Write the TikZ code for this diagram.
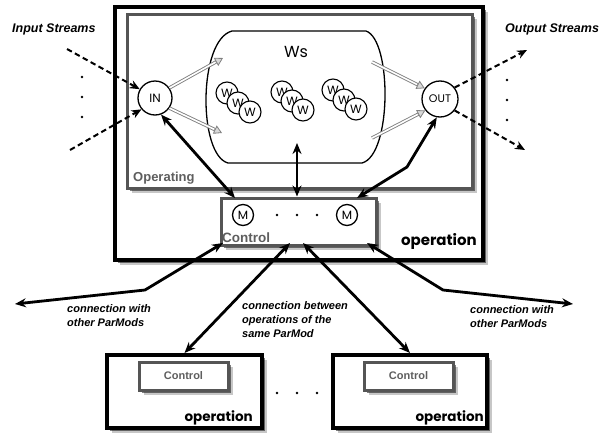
\documentclass[tikz,border=0pt]{standalone}
\usepackage{fontspec}
\setmainfont{Liberation Sans}
\newfontfamily\comic{Poppins}
\usetikzlibrary{arrows.meta,shadows}
\definecolor{boxgray}{HTML}{555555}
\definecolor{txtgray}{HTML}{5E5E5E}
\begin{document}
\begin{tikzpicture}[x=1pt,y=-1pt,
  shad/.style={drop shadow={shadow xshift=4.5pt, shadow yshift=-4.5pt, fill=black, opacity=0.22},
               drop shadow={shadow xshift=2.5pt, shadow yshift=-2.5pt, fill=black, opacity=0.5}},
  mainbox/.style={draw=black, line width=4pt, fill=white, inner sep=0pt, shad},
  graybox/.style={draw=boxgray, line width=3pt, fill=white, inner sep=0pt, shad},
  circ/.style={circle, draw, line width=1.3pt, fill=white, inner sep=0pt},
  wcirc/.style={circ, line width=1.1pt, minimum size=22pt, font=\comic\fontsize{12}{12}\selectfont},
  mcirc/.style={circ, minimum size=21pt, font=\comic\fontsize{12}{12}\selectfont},
  barrow/.style={line width=2.8pt, {Stealth[length=11pt,width=9pt]}-{Stealth[length=11pt,width=9pt]}},
  darrow/.style={line width=2pt, dash pattern=on 5.5pt off 3.5pt, -{Stealth[length=10pt,width=8.5pt]}},
  garrow/.style={line width=3.4pt, draw=gray, -{Triangle[length=8pt,width=9pt,fill=gray!30,color=gray,line width=0.8pt]},
    postaction={draw=white, line width=1.6pt, -, shorten >=8.5pt}},
  streams/.style={font=\bfseries\itshape\fontsize{12.5}{14}\selectfont, inner sep=0pt},
  lbl/.style={font=\bfseries\itshape\fontsize{11}{14}\selectfont, align=left, inner sep=0pt},
  optext/.style={font=\comic\bfseries\fontsize{15}{15}\selectfont, inner sep=0pt},
  dot/.style={circle, fill=black, inner sep=0pt, minimum size=2.6pt},
]
\useasboundingbox (0,0) rectangle (615,434);

% main operation box
\node[mainbox, minimum width=368pt, minimum height=253pt] (op) at (299,133.5) {};
% operating box
\node[graybox, minimum width=345pt, minimum height=174pt] (oping) at (299.5,101) {};
\node[font=\bfseries\fontsize{13}{13}\selectfont, text=txtgray, anchor=base west, inner sep=0pt] (opinglbl) at (133,181) {Operating};

% Ws cloud
\draw[line width=1.3pt, fill=white] (232,31) -- (366,31) .. controls (392,40) and (392,155) .. (362,163)
  -- (228,163) .. controls (198,155) and (198,40) .. (232,31) -- cycle;
\node[font=\comic\fontsize{16}{16}\selectfont, inner sep=0pt] (wslbl) at (296,52) {Ws};

% workers
\node[wcirc] (w11) at (227,93) {W};
\node[wcirc] (w12) at (238,103) {W};
\node[wcirc] (w13) at (250,112) {W};
\node[wcirc] (w21) at (282,92) {W};
\node[wcirc] (w22) at (292,101) {W};
\node[wcirc] (w23) at (303,110) {W};
\node[wcirc] (w31) at (333,90) {W};
\node[wcirc] (w32) at (344,100) {W};
\node[wcirc] (w33) at (356,109) {W};

% IN / OUT
\node[circ, minimum size=34pt, font=\comic\fontsize{12}{12}\selectfont] (in) at (155,98) {IN};
\node[circ, minimum size=36pt, font=\comic\fontsize{11}{11}\selectfont] (out) at (440,99) {OUT};

% gray arrows
\coordinate (g1) at (223,58);
\coordinate (g2) at (222,133);
\coordinate (g3) at (372,62);
\coordinate (g4) at (372,138);
\draw[garrow] (in.35) -- (g1);
\draw[garrow] (in.-35) -- (g2);
\draw[garrow] (g3) -- (out.145);
\draw[garrow] (g4) -- (out.-142);

% input / output streams
\coordinate (i1) at (67,49);
\coordinate (i2) at (70,150);
\coordinate (o1) at (527,50);
\coordinate (o2) at (525,150);
\draw[darrow] (i1) -- (in.150);
\draw[darrow] (i2) -- (in.-140);
\draw[darrow] (out.38) -- (o1);
\draw[darrow] (out.-38) -- (o2);
\node[dot] (id1) at (82,77) {};
\node[dot] (id2) at (82,97) {};
\node[dot] (id3) at (82,117) {};
\node[dot] (od1) at (507,80) {};
\node[dot] (od2) at (507,100) {};
\node[dot] (od3) at (507,120) {};
\node[streams, anchor=base west] (instr) at (12,32) {Input Streams};
\node[streams, anchor=base west] (outstr) at (505,32) {Output Streams};

% control box
\node[graybox, minimum width=155pt, minimum height=47pt] (ctrl) at (298.5,221.5) {};
\node[mcirc] (m1) at (243,215) {M};
\node[mcirc] (m2) at (347,215) {M};
\node[dot] (cd1) at (277,215) {};
\node[dot] (cd2) at (297,215) {};
\node[dot] (cd3) at (317,215) {};
\node[font=\bfseries\fontsize{13.5}{13.5}\selectfont, text=txtgray, anchor=base west, inner sep=0pt] (ctrllbl) at (222,242) {Control};
\node[optext, anchor=base east] (oplbl) at (477,245) {operation};

% lower operation boxes
\node[mainbox, minimum width=155pt, minimum height=73pt] (lop) at (184.5,391.5) {};
\node[mainbox, minimum width=154pt, minimum height=73pt] (rop) at (410,391.5) {};
\node[graybox, minimum width=89pt, minimum height=28pt, text=txtgray, font=\bfseries\fontsize{11}{11}\selectfont] (lctrl) at (183.5,376) {Control};
\node[graybox, minimum width=89pt, minimum height=28pt, text=txtgray, font=\bfseries\fontsize{11}{11}\selectfont] (rctrl) at (408.5,376) {Control};
\node[optext, anchor=base east, font=\comic\bfseries\fontsize{13.5}{13.5}\selectfont] (loplbl) at (253,421) {operation};
\node[optext, anchor=base east, font=\comic\bfseries\fontsize{13.5}{13.5}\selectfont] (roplbl) at (484,421) {operation};
\node[dot] (ld1) at (277,393) {};
\node[dot] (ld2) at (297,393) {};
\node[dot] (ld3) at (317,393) {};

% black connections
\coordinate (ca) at (235,198);
\coordinate (wsb) at (297,143);
\coordinate (ob) at (407,167);
\coordinate (cb) at (357,198);
\draw[barrow] (in.-70) -- (ca);
\draw[barrow] (wsb) -- (wsb |- ctrl.north);
\draw[barrow] (out.-100) -- (ob) -- (cb);

\coordinate (l1) at (15,304);
\coordinate (l1b) at (145,290);
\coordinate (cl) at (223,243);
\coordinate (cr) at (367,243);
\coordinate (r1b) at (443,290);
\coordinate (r1) at (573,304);
\coordinate (cm1) at (290,243);
\coordinate (cm2) at (303,243);
\draw[barrow] (l1) -- (l1b) -- (cl);
\draw[barrow] (cr) -- (r1b) -- (r1);
\draw[barrow] (cm1) -- (lop.north);
\draw[barrow] (cm2) -- (rop.north);

% labels
\node[lbl, anchor=north west] (lblL) at (67,304) {connection with\\other ParMods};
\node[lbl, anchor=north west] (lblM) at (242,301) {connection between\\operations of the\\same ParMod};
\node[lbl, anchor=north west] (lblR) at (470,305) {connection with\\other ParMods};
\end{tikzpicture}
\end{document}
